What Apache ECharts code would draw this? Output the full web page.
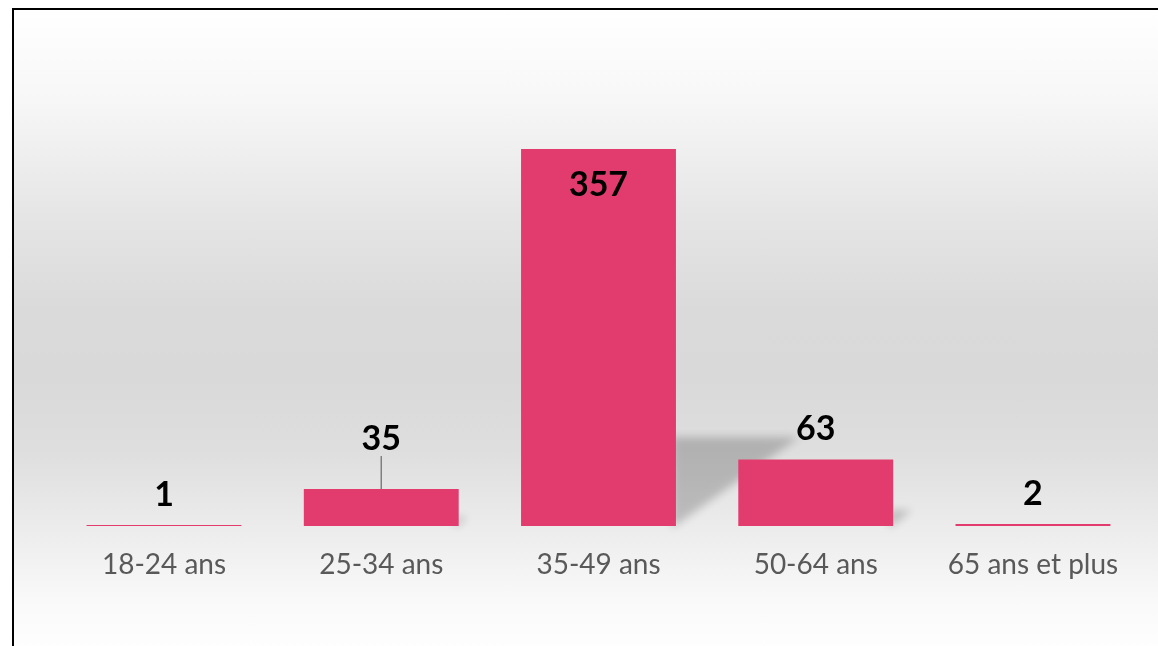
<!DOCTYPE html>
<html>
<head>
<meta charset="utf-8">
<script src="https://cdn.jsdelivr.net/npm/echarts@6/dist/echarts.min.js"></script>
<style>
  html, body { margin: 0; padding: 0; background: #ffffff; }
  #frame {
    position: absolute; left: 12px; top: 8px; width: 1146px; height: 638px;
    border-top: 2px solid #000; border-left: 2px solid #000; box-sizing: border-box;
    background: linear-gradient(to bottom, #ffffff 0px, #f7f7f7 90px, #e6e6e6 200px, #dadada 300px, #d9d9d9 370px, #dedede 440px, #eeeeee 530px, #f9f9f9 590px, #fefefe 638px);
  }
  #chart { position: absolute; left: 0; top: 0; width: 1158px; height: 646px; }
</style>
</head>
<body>
<div id="frame"></div>
<div id="chart"></div>
<script>
const categories = ['18-24 ans', '25-34 ans', '35-49 ans', '50-64 ans', '65 ans et plus'];
const values = [1, 35, 357, 63, 2];

const chart = echarts.init(document.getElementById('chart'), null, { renderer: 'canvas' });
const BAR_RATIO = 0.713;
const OFF = 3000;

const option = {
  backgroundColor: 'transparent',
  animation: false,
  grid: { left: 55.4, right: 16.4, top: 103.6, bottom: 120 },
  xAxis: {
    type: 'category',
    data: categories,
    axisLine: { show: false },
    axisTick: { show: false },
    splitLine: { show: false },
    axisLabel: { color: '#595959', fontSize: 28, fontFamily: 'Lato', margin: 25, interval: 0 }
  },
  yAxis: {
    type: 'value', min: 0, max: 400,
    show: false,
    axisLine: { show: false },
    splitLine: { show: false }
  },
  series: [
    {
      type: 'custom',
      z: 1,
      silent: true,
      clip: false,
      data: values.map((v, i) => [i, v]),
      renderItem: function (params, api) {
        const idx = api.value(0);
        const top = api.coord([idx, api.value(1)]);
        const bottom = api.coord([idx, 0]);
        const barH = bottom[1] - top[1];
        if (barH < 10) return null;
        const hw = api.size([1, 0])[0] * BAR_RATIO / 2;
        const rx = bottom[0] + hw - 4;
        const sh = barH * 0.236;
        const dx = sh * 1.43;
        return {
          type: 'polygon',
          shape: { points: [[rx - OFF, bottom[1] + 2], [rx - OFF, bottom[1] - sh], [rx + dx - OFF, bottom[1] - sh]] },
          style: { fill: '#000', shadowBlur: 9, shadowColor: 'rgba(0,0,0,0.2)', shadowOffsetX: OFF, shadowOffsetY: 0 }
        };
      }
    },
    {
      type: 'bar',
      z: 2,
      data: values.map((v, i) => {
        const d = { value: v };
        if (i === 2) {
          d.label = { position: 'insideTop', distance: 19 };
        }
        if (i === 1) {
          d.labelLine = { show: true, lineStyle: { color: '#7f7f7f', width: 1.5 } };
        }
        return d;
      }),
      barWidth: '71.3%',
      itemStyle: { color: '#e23c6e' },
      label: {
        show: true,
        position: 'top',
        distance: 13,
        color: '#000000',
        fontSize: 34,
        fontWeight: 'bold',
        fontFamily: 'Lato'
      },
      labelLine: { show: false },
      labelLayout: function (params) {
        if (params.dataIndex === 1) return { dy: -20 };
        return {};
      }
    }
  ]
};
chart.setOption(option);
</script>
</body>
</html>
